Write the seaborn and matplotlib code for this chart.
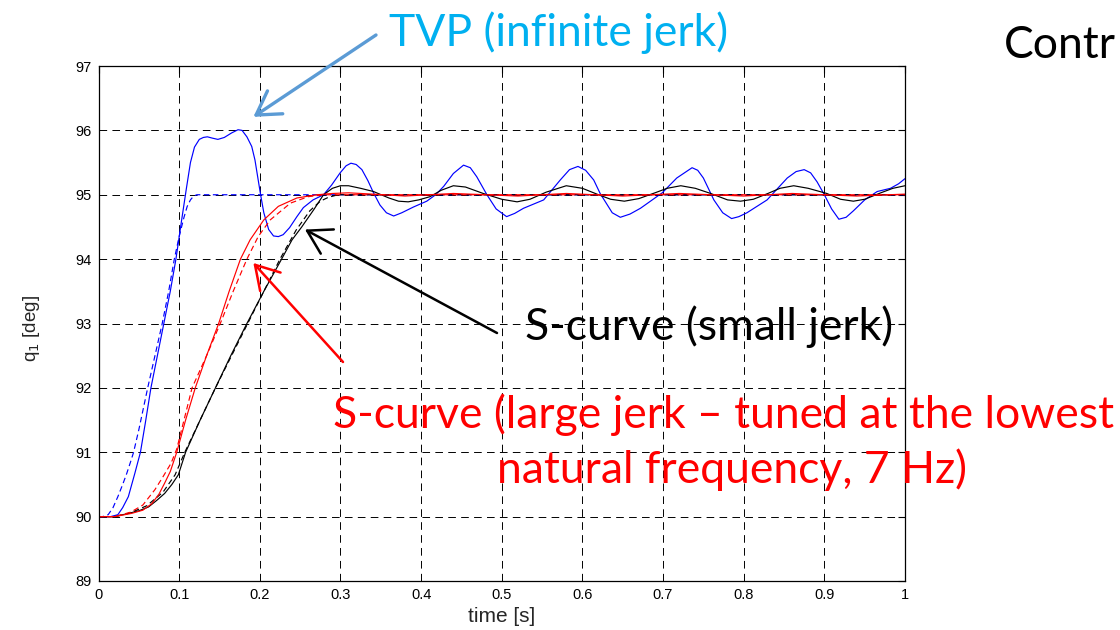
import matplotlib
matplotlib.use("Agg")
import matplotlib.pyplot as plt
import seaborn as sns
import numpy as np

# ---------------- data ----------------
tvp_ref_t = [0, 0.005, 0.012, 0.018, 0.024, 0.03, 0.035, 0.04, 0.0435, 0.05, 0.061, 0.07,
             0.079, 0.087, 0.094, 0.1, 0.106, 0.11, 0.114, 0.118, 0.122, 0.13, 1.0]
tvp_ref_y = [90, 90, 90.03, 90.14, 90.31, 90.5, 90.67, 90.86, 91.0, 91.35, 92.0, 92.5,
             93.0, 93.5, 94.0, 94.35, 94.65, 94.82, 94.92, 94.98, 95.0, 95.0, 95.0]

tvp_t = [0, 0.015, 0.024, 0.03, 0.037, 0.045, 0.052, 0.058, 0.065, 0.073, 0.081, 0.089,
         0.096, 0.103, 0.109, 0.114, 0.119, 0.125, 0.13, 0.135, 0.141, 0.148, 0.156, 0.165,
         0.173, 0.178, 0.184, 0.19, 0.194, 0.198, 0.201, 0.205, 0.211, 0.217, 0.223, 0.229,
         0.237, 0.246, 0.254, 0.266, 0.279, 0.289, 0.2996, 0.307, 0.313, 0.3195, 0.3266,
         0.334, 0.341, 0.349, 0.357, 0.366, 0.376, 0.3906, 0.407, 0.418, 0.428, 0.44,
         0.4526, 0.461, 0.469, 0.4816, 0.493, 0.506, 0.516, 0.527, 0.552, 0.5726, 0.584,
         0.5945, 0.604, 0.614, 0.622, 0.628, 0.637, 0.647, 0.659, 0.672, 0.699, 0.717,
         0.736, 0.743, 0.75, 0.763, 0.774, 0.785, 0.794, 0.804, 0.829, 0.854, 0.865, 0.875,
         0.883, 0.891, 0.9, 0.909, 0.918, 0.927, 0.936, 0.95, 0.9655, 0.982, 0.992, 1.0]
tvp_y = [90, 90.0, 90.03, 90.14, 90.31, 90.67, 91.0, 91.45, 92.0, 92.5, 93.0, 93.5,
         94.0, 94.6, 95.1, 95.5, 95.74, 95.86, 95.89, 95.9, 95.88, 95.86, 95.89, 95.96,
         96.01, 96.0, 95.9, 95.75, 95.54, 95.23, 95.0, 94.72, 94.46, 94.36, 94.35, 94.38,
         94.49, 94.66, 94.8, 94.92, 95.0, 95.15, 95.34, 95.45, 95.49, 95.47, 95.39,
         95.22, 95.03, 94.84, 94.72, 94.67, 94.72, 94.81, 94.9, 95.0, 95.13, 95.33,
         95.46, 95.42, 95.28, 95.0, 94.78, 94.66, 94.71, 94.79, 94.92, 95.23, 95.39,
         95.44, 95.38, 95.23, 95.02, 94.9, 94.72, 94.65, 94.7, 94.79, 95.03, 95.26,
         95.42, 95.38, 95.26, 94.92, 94.72, 94.63, 94.66, 94.72, 94.92, 95.26, 95.36, 95.39,
         95.34, 95.2, 95.0, 94.78, 94.62, 94.65, 94.75, 94.92, 95.05, 95.1, 95.17, 95.25]

small_ref_t = [0, 0.02, 0.04, 0.06, 0.08, 0.095, 0.107, 0.126, 0.145, 0.165, 0.185, 0.205,
               0.225, 0.245, 0.262, 0.275, 0.285, 0.297, 1.0]
small_ref_y = [90, 90, 90.06, 90.17, 90.38, 90.65, 91.0, 91.5, 92.0, 92.5, 93.0, 93.5,
               94.0, 94.45, 94.75, 94.9, 94.96, 95.0, 95.0]

small_t = [0, 0.02, 0.037, 0.05, 0.062, 0.072, 0.082, 0.091, 0.099, 0.108, 0.126, 0.145,
           0.164, 0.184, 0.205, 0.227, 0.24, 0.252, 0.267, 0.279, 0.29, 0.3, 0.31, 0.325,
           0.341, 0.36, 0.372, 0.384, 0.397, 0.411, 0.425, 0.44, 0.455, 0.477, 0.5, 0.519,
           0.535, 0.555, 0.58, 0.6, 0.62, 0.635, 0.652, 0.67, 0.69, 0.705, 0.722, 0.74,
           0.759, 0.78, 0.796, 0.812, 0.83, 0.845, 0.862, 0.88, 0.903, 0.92, 0.936, 0.95,
           0.97, 0.985, 1.0]
small_y = [90, 90.0, 90.05, 90.09, 90.15, 90.25, 90.36, 90.5, 90.65, 91.0, 91.5, 92.0,
           92.5, 93.0, 93.5, 94.0, 94.3, 94.5, 94.77, 95.0, 95.1, 95.14, 95.14, 95.1,
           95.05, 94.95, 94.9, 94.89, 94.92, 94.97, 95.07, 95.14, 95.12, 95.02, 94.93, 94.89,
           94.93, 95.04, 95.14, 95.1, 95.0, 94.93, 94.9, 94.94, 95.03, 95.1, 95.14, 95.1,
           95.02, 94.92, 94.9, 94.93, 95.02, 95.1, 95.14, 95.1, 95.02, 94.93, 94.9, 94.93,
           95.03, 95.1, 95.14]

large_ref_t = [0, 0.02, 0.04, 0.055, 0.07, 0.08, 0.09, 0.097, 0.105, 0.116, 0.134, 0.151,
               0.167, 0.184, 0.198, 0.213, 0.238, 0.26, 0.28, 1.0]
large_ref_y = [90, 90, 90.07, 90.18, 90.42, 90.62, 90.83, 91.05, 91.45, 92.0, 92.5, 93.0,
               93.5, 94.0, 94.35, 94.61, 94.87, 94.97, 95.0, 95.0]

large_t = [0, 0.02, 0.041, 0.055, 0.066, 0.075, 0.082, 0.089, 0.097, 0.108, 0.12, 0.134,
           0.149, 0.162, 0.176, 0.188, 0.205, 0.223, 0.246, 0.271, 0.29, 0.31, 0.34, 0.38,
           0.44, 0.52, 0.58, 0.65, 0.72, 0.8, 0.86, 0.94, 1.0]
large_y = [90, 90, 90.05, 90.1, 90.2, 90.35, 90.52, 90.7, 91.0, 91.5, 92.0, 92.5,
           93.0, 93.5, 94.0, 94.3, 94.61, 94.82, 94.95, 95.0, 95.02, 95.03, 95.01, 94.98,
           95.02, 94.98, 95.02, 94.98, 95.02, 94.98, 95.02, 94.98, 95.01]

x_ticks = [0, 0.1, 0.2, 0.3, 0.4, 0.5, 0.6, 0.7, 0.8, 0.9, 1]
x_tick_labels = ["0", "0.1", "0.2", "0.3", "0.4", "0.5", "0.6", "0.7", "0.8", "0.9", "1"]
y_ticks = [89, 90, 91, 92, 93, 94, 95, 96, 97]

# ---------------- style ----------------
sns.set_style("white")
plt.rcParams["font.family"] = ["Liberation Sans", "DejaVu Sans"]
plt.rcParams["lines.scale_dashes"] = False

fig = plt.figure(figsize=(11.2, 6.3), dpi=100)
ax = fig.add_axes([98.5 / 1120, 1 - 581 / 630, (905 - 98.5) / 1120, (581 - 66) / 630])

dash = (0, (4, 2.5))
lw = 0.85
sns.lineplot(x=tvp_ref_t, y=tvp_ref_y, ax=ax, color="#0000ff", lw=lw, linestyle=dash)
sns.lineplot(x=tvp_t, y=tvp_y, ax=ax, color="#0000ff", lw=lw)
sns.lineplot(x=small_ref_t, y=small_ref_y, ax=ax, color="black", lw=lw, linestyle=dash)
sns.lineplot(x=small_t, y=small_y, ax=ax, color="black", lw=lw)
sns.lineplot(x=large_ref_t, y=large_ref_y, ax=ax, color="#ff0000", lw=lw, linestyle=dash)
sns.lineplot(x=large_t, y=large_y, ax=ax, color="#ff0000", lw=lw)

ax.set_xlim(0, 1)
ax.set_ylim(89, 97)
ax.set_xticks(x_ticks)
ax.set_xticklabels(x_tick_labels)
ax.set_yticks(y_ticks)
ax.grid(True, color="black", linestyle=(0, (5.5, 3.8)), linewidth=0.7)
ax.set_axisbelow(True)
for s in ax.spines.values():
    s.set_visible(True)
    s.set_color("black")
    s.set_linewidth(0.9)
ax.tick_params(direction="in", length=5, width=0.8, top=True, right=True,
               labelsize=10.5, pad=5, colors="black")
ax.set_xlabel("time [s]", fontsize=15)
ax.xaxis.set_label_coords(0.5, -0.05)
ax.set_ylabel(r"q$_1$ [deg]", fontsize=13.5)
ax.yaxis.set_label_coords(-0.07, 0.49)

# ---------------- annotations ----------------
tf = ["Lato", "DejaVu Sans"]
fs = 32
def fx(p):
    return p / 1120
def fy(p):
    return 1 - p / 630

head = "->,head_length=0.75,head_width=0.45"

fig.text(fx(559), fy(33), "TVP (infinite jerk)", color="#00b0f0", fontsize=fs,
         family=tf, ha="center", va="center")
ax.annotate("", xy=(0.192, 96.21), xycoords="data", xytext=(fx(376), fy(35)),
            textcoords="figure fraction", annotation_clip=False,
            arrowprops=dict(arrowstyle=head, color="#5b9bd5", lw=2.4,
                            mutation_scale=22, shrinkA=0, shrinkB=0))

fig.text(fx(709), fy(327), "S-curve (small jerk)", color="black", fontsize=fs,
         family=tf, ha="center", va="center")
ax.annotate("", xy=(0.256, 94.46), xycoords="data", xytext=(fx(497), fy(333)),
            textcoords="figure fraction", annotation_clip=False,
            arrowprops=dict(arrowstyle=head, color="black", lw=1.8,
                            mutation_scale=22, shrinkA=0, shrinkB=0))

fig.text(fx(724), fy(415), "S-curve (large jerk \u2013 tuned at the lowest", color="#ff0000",
         fontsize=fs, family=tf, ha="center", va="center")
fig.text(fx(732), fy(470), "natural frequency, 7 Hz)", color="#ff0000",
         fontsize=fs, family=tf, ha="center", va="center")
ax.annotate("", xy=(0.192, 93.94), xycoords="data", xytext=(fx(343), fy(362)),
            textcoords="figure fraction", annotation_clip=False,
            arrowprops=dict(arrowstyle=head, color="#ff0000", lw=1.8,
                            mutation_scale=22, shrinkA=0, shrinkB=0))

fig.text(fx(1116), fy(45), "Contr", color="black", fontsize=fs, family=tf,
         ha="right", va="center")

fig.savefig("out.png", dpi=100)
